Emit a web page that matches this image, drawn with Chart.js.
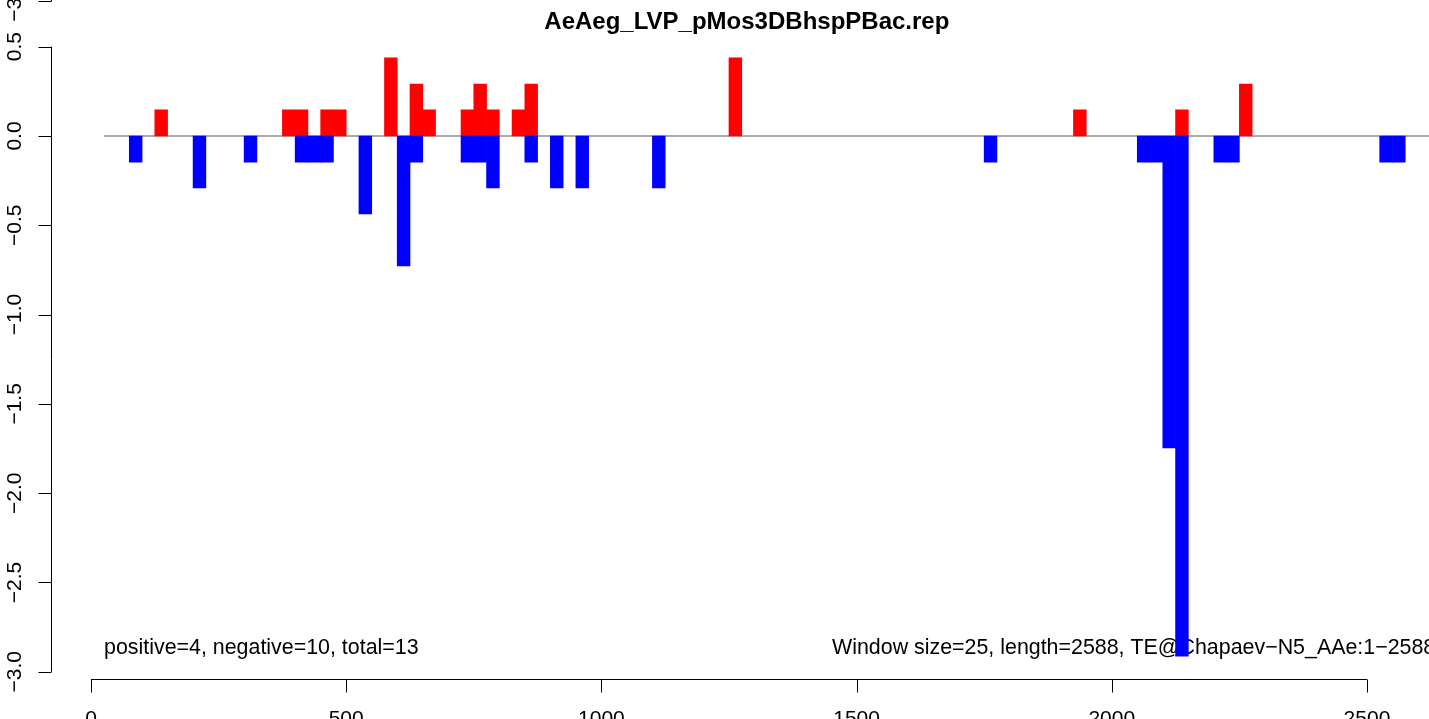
<!DOCTYPE html>
<html>
<head>
<meta charset="utf-8">
<script src="https://cdn.jsdelivr.net/npm/chart.js@4.4.1/dist/chart.umd.min.js"></script>
<style>
  html, body { margin: 0; padding: 0; background: #fff; overflow: hidden; }
  #wrap { width: 1429px; height: 719px; overflow: hidden; position: relative; }
  canvas { display: block; }
</style>
</head>
<body>
<div id="wrap"><canvas id="repChart" width="1480" height="719"></canvas></div>
<script>
// window-based coverage plot, R style
const windowSize = 25;
const posStarts = [125, 375, 400, 450, 475, 575, 625, 650, 725, 750, 775, 825, 850, 1250, 1925, 2125, 2250];
const posValues = [0.146, 0.146, 0.146, 0.146, 0.146, 0.437, 0.291, 0.146, 0.146, 0.291, 0.146, 0.146, 0.291, 0.437, 0.146, 0.146, 0.291];
const negStarts = [75, 200, 300, 400, 425, 450, 525, 600, 625, 725, 750, 775, 850, 900, 950, 1100, 1750, 2050, 2075, 2100, 2125, 2200, 2225, 2525, 2550];
const negValues = [-0.146, -0.291, -0.146, -0.146, -0.146, -0.146, -0.437, -0.728, -0.146, -0.146, -0.146, -0.291, -0.146, -0.291, -0.291, -0.291, -0.146, -0.146, -0.146, -1.747, -2.912, -0.146, -0.146, -0.146, -0.146];
const xTicks = [0, 500, 1000, 1500, 2000, 2500];
const yTicks = [0.5, 0.0, -0.5, -1.0, -1.5, -2.0, -2.5, -3.0];
const zeroLine = [25, 2650];

const title = 'AeAeg_LVP_pMos3DBhspPBac.rep';
const leftNote = 'positive=4, negative=10, total=13';
const rightNote = 'Window size=25, length=2588, TE@Chapaev\u2212N5_AAe:1\u22122588';

const FONT = '"Liberation Sans", Arial, sans-serif';

// R style ylim: data range + 4%
const allVals = posValues.concat(negValues);
const yLo = Math.min(...allVals), yHi = Math.max(...allVals);
const yPad = (yHi - yLo) * 0.04;

const fmt = v => (v < 0 ? '\u2212' : '') + Math.abs(v).toFixed(1);

const toPoints = (starts, vals) => starts.map((s, i) => ({ x: s + windowSize / 2, y: vals[i] }));

// axes + labels drawn the way R's base graphics does
const rAxes = {
  id: 'rAxes',
  beforeDatasetsDraw(chart) {
    const { ctx, chartArea, scales: { x, y } } = chart;
    ctx.save();
    ctx.fillStyle = '#000';
    ctx.strokeStyle = '#000';
    ctx.lineWidth = 1;

    // title over plot centre
    ctx.font = 'bold 24px ' + FONT;
    ctx.textAlign = 'center';
    ctx.textBaseline = 'middle';
    ctx.fillText(title, (chartArea.left + chartArea.right) / 2, 22);

    // notes in plot area
    ctx.font = '21.4px ' + FONT;
    ctx.textAlign = 'left';
    ctx.fillText(leftNote, 104, 648);
    ctx.fillText(rightNote, 832, 648);

    // y axis
    ctx.font = '21px ' + FONT;
    const ax = Math.round(chartArea.left) + 0.5;
    ctx.beginPath();
    ctx.moveTo(ax, y.getPixelForValue(yTicks[0]));
    ctx.lineTo(ax, y.getPixelForValue(yTicks[yTicks.length - 1]));
    yTicks.forEach(t => {
      const py = Math.round(y.getPixelForValue(t)) + 0.5;
      ctx.moveTo(ax, py);
      ctx.lineTo(ax - 13, py);
    });
    ctx.stroke();
    yTicks.forEach(t => {
      const py = y.getPixelForValue(t);
      ctx.save();
      ctx.translate(15, py);
      ctx.rotate(-Math.PI / 2);
      ctx.textAlign = 'center';
      ctx.textBaseline = 'middle';
      ctx.fillText(fmt(t), 0, 0);
      ctx.restore();
    });

    // bit of the panel above, cut by the crop
    ctx.beginPath();
    ctx.moveTo(ax, 0);
    ctx.lineTo(ax, 1.5);
    ctx.lineTo(ax - 13, 1.5);
    ctx.stroke();
    ctx.save();
    ctx.translate(15, 1);
    ctx.rotate(-Math.PI / 2);
    ctx.textAlign = 'center';
    ctx.textBaseline = 'middle';
    ctx.fillText(fmt(-3.0), 0, 0);
    ctx.restore();

    // x axis
    const ay = Math.round(chartArea.bottom) - 0.5;
    ctx.beginPath();
    ctx.moveTo(x.getPixelForValue(xTicks[0]), ay);
    ctx.lineTo(x.getPixelForValue(xTicks[xTicks.length - 1]), ay);
    xTicks.forEach(t => {
      const px = Math.round(x.getPixelForValue(t)) + 0.5;
      ctx.moveTo(px, ay);
      ctx.lineTo(px, ay + 13);
    });
    ctx.stroke();
    ctx.textAlign = 'center';
    ctx.textBaseline = 'middle';
    xTicks.forEach(t => ctx.fillText(String(t), x.getPixelForValue(t), 719));
    ctx.restore();
  }
};

new Chart(document.getElementById('repChart').getContext('2d'), {
  type: 'bar',
  data: {
    datasets: [
      {
        type: 'line',
        data: zeroLine.map(v => ({ x: v, y: 0 })),
        borderColor: '#8f8f8f',
        borderWidth: 1.3,
        pointRadius: 0,
        order: 3
      },
      {
        label: 'negative',
        data: toPoints(negStarts, negValues),
        backgroundColor: '#0000ff',
        order: 1
      },
      {
        label: 'positive',
        data: toPoints(posStarts, posValues),
        backgroundColor: '#ff0000',
        order: 2
      }
    ]
  },
  options: {
    responsive: false,
    animation: false,
    devicePixelRatio: 1,
    layout: { padding: { left: 50.7, right: 37, top: 34, bottom: 39 } },
    datasets: {
      bar: {
        grouped: false,
        barPercentage: 1,
        categoryPercentage: 1,
        borderWidth: 0
      }
    },
    scales: {
      x: { type: 'linear', display: false, offset: false, min: -79, max: 2649 },
      y: { type: 'linear', display: false, min: yLo - yPad, max: yHi + yPad }
    },
    plugins: {
      legend: { display: false },
      tooltip: { enabled: false }
    }
  },
  plugins: [rAxes]
});
</script>
</body>
</html>
